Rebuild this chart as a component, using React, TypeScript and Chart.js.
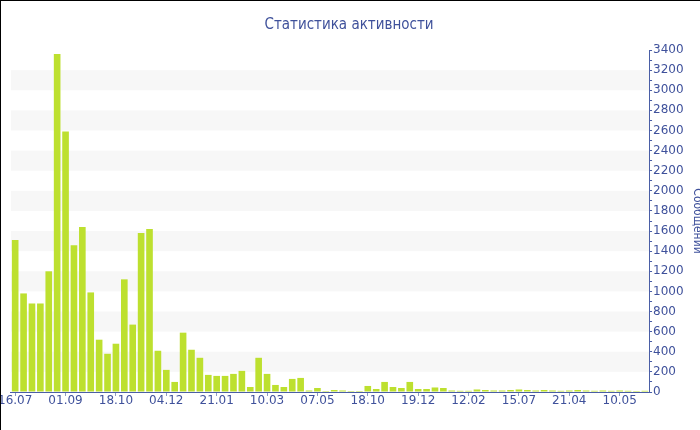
import React, { useEffect, useRef } from 'react';
import { Chart, registerables } from 'chart.js';

Chart.register(...registerables);

const chartTitle = 'Статистика активности';
const yAxisTitle = 'Сообщений';
const tickLabels = ['16.07', '01.09', '18.10', '04.12', '21.01', '10.03', '07.05', '18.10', '19.12', '12.02', '15.07', '21.04', '10.05'];
const messages = [
  1510, 980, 880, 880, 1200, 3360, 2590, 1460, 1640, 990,
  520, 380, 480, 1120, 670, 1580, 1620, 410, 220, 100,
  590, 420, 340, 170, 160, 160, 180, 210, 50, 340,
  180, 70, 50, 130, 140, 15, 40, 10, 20, 15,
  10, 10, 60, 30, 100, 50, 40, 100, 30, 30,
  45, 40, 15, 12, 12, 25, 20, 15, 15, 20,
  25, 20, 15, 20, 15, 12, 15, 20, 15, 12,
  15, 12, 15, 12, 10, 12,
];
const labelEvery = 6;
const yMax = 3400;
const yStep = 100;
const yLabelStep = 200;

const categories = messages.map((_, i) => (i % labelEvery === 0 ? tickLabels[i / labelEvery] ?? '' : ''));

const TEXT = '#3f519b';
const AXIS = '#4a5ea6';

const bandPlugin = {
  id: 'bands',
  beforeDraw(chart: any) {
    const { ctx, chartArea, scales } = chart;
    const y = scales.y;
    ctx.save();
    ctx.fillStyle = '#f7f7f7';
    for (let v = yLabelStep; v < y.max; v += yLabelStep * 2) {
      const top = y.getPixelForValue(Math.min(v + yLabelStep, y.max));
      const bot = y.getPixelForValue(v);
      ctx.fillRect(chartArea.left, top, chartArea.right - chartArea.left, bot - top);
    }
    ctx.restore();
  },
};

export default function App() {
  const ref = useRef<HTMLCanvasElement>(null);
  useEffect(() => {
    if (!ref.current) return;
    const chart = new Chart(ref.current, {
      type: 'bar',
      data: {
        labels: categories,
        datasets: [
          {
            data: messages,
            backgroundColor: '#bde02f',
            borderWidth: 0,
            barPercentage: 0.79,
            categoryPercentage: 1,
          },
        ],
      },
      plugins: [bandPlugin],
      options: {
        responsive: false,
        animation: false,
        devicePixelRatio: 1,
        layout: { padding: { left: -12, right: 0, top: 0, bottom: 23.6 } },
        plugins: {
          legend: { display: false },
          tooltip: { enabled: false },
          title: {
            display: true,
            text: chartTitle,
            color: TEXT,
            font: { family: '"DejaVu Sans Condensed", "DejaVu Sans", sans-serif', size: 15, weight: 'normal' },
            padding: { top: 15, bottom: 16 },
          },
        },
        scales: {
          x: {
            offset: true,
            ticks: {
              autoSkip: false,
              maxRotation: 0,
              minRotation: 0,
              color: TEXT,
              padding: -2,
              font: { family: '"DejaVu Sans", sans-serif', size: 12 },
            },
            grid: {
              offset: false,
              drawOnChartArea: false,
              tickLength: 4,
              color: (c: any) => (c.index % labelEvery === 0 ? '#8d9cc4' : 'rgba(0,0,0,0)'),
            },
            border: { color: AXIS, width: 1 },
          },
          y: {
            position: 'right',
            min: 0,
            max: yMax,
            ticks: {
              stepSize: yStep,
              autoSkip: false,
              color: TEXT,
              padding: 1,
              font: { family: '"DejaVu Sans", sans-serif', size: 12 },
              callback: (v: any) => (Number(v) % yLabelStep === 0 ? String(v) : ''),
            },
            grid: { drawOnChartArea: false, tickLength: 3, color: AXIS },
            border: { color: AXIS, width: 1 },
            title: {
              display: true,
              text: yAxisTitle,
              color: TEXT,
              font: { family: '"DejaVu Sans Condensed", "DejaVu Sans", sans-serif', size: 12 },
              padding: { top: 5.8, bottom: 5.2 },
            },
          },
        },
      },
    } as any);
    return () => chart.destroy();
  }, []);

  return (
    <div
      style={{
        position: 'absolute',
        left: 0,
        top: 0,
        width: 699,
        height: 429,
        borderTop: '1px solid #000',
        borderLeft: '1px solid #000',
        overflow: 'hidden',
        background: '#fff',
      }}
    >
      <canvas
        ref={ref}
        width={710}
        height={429}
        style={{ position: 'absolute', left: -1, top: 0, width: 710, height: 429, display: 'block' }}
      />
    </div>
  );
}
